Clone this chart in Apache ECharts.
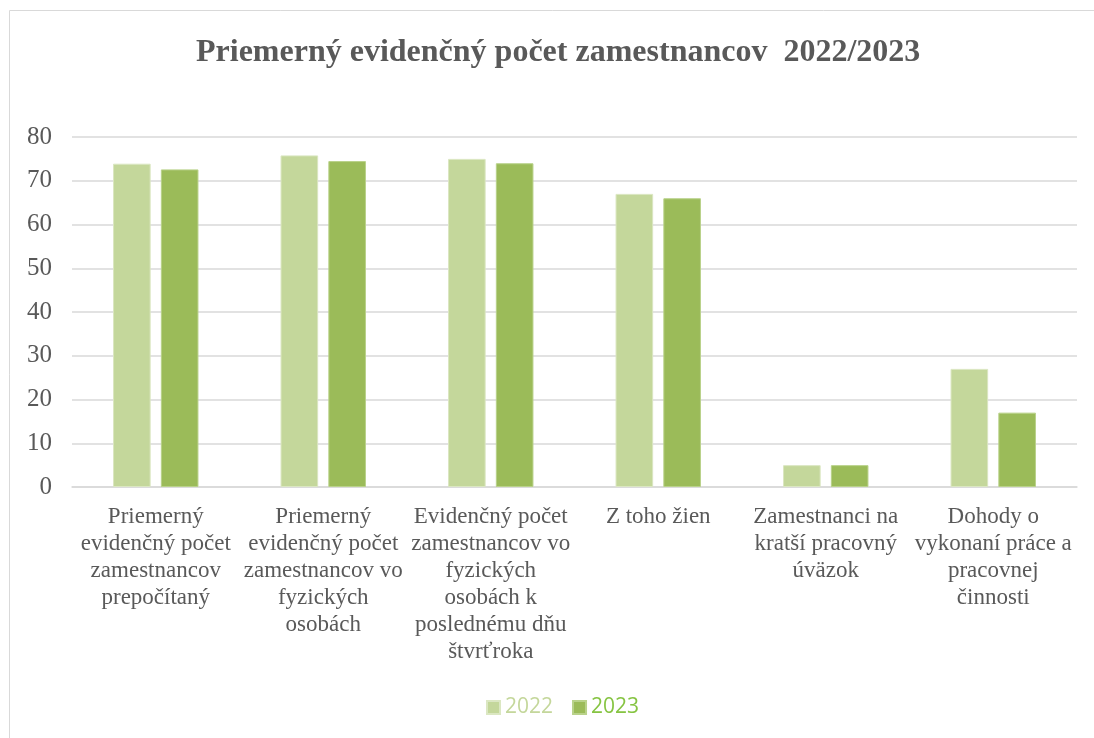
<!DOCTYPE html>
<html>
<head>
<meta charset="utf-8">
<script src="https://cdn.jsdelivr.net/npm/echarts@6/dist/echarts.min.js"></script>
<style>
  html, body { margin: 0; padding: 0; background: #fff; }
  #chart { width: 1094px; height: 738px; }
</style>
</head>
<body>
<div id="chart"></div>
<script>
const categories = [
  "Priemerný\nevidenčný počet\nzamestnancov\nprepočítaný",
  "Priemerný\nevidenčný počet\nzamestnancov vo\nfyzických\nosobách",
  "Evidenčný počet\nzamestnancov vo\nfyzických\nosobách k\nposlednému dňu\nštvrťroka",
  "Z toho žien",
  "Zamestnanci na\nkratší pracovný\núväzok",
  "Dohody o\nvykonaní práce a\npracovnej\nčinnosti",
];
const values2022 = [73.9, 75.8, 75, 67, 5, 27];
const values2023 = [72.6, 74.5, 74, 66, 5, 17];
const seriesNames = ["2022", "2023"];

const serif = "'Liberation Serif', 'Times New Roman', serif";
const chart = echarts.init(document.getElementById("chart"));

chart.setOption({
  animation: false,
  title: {
    text: "Priemerný evidenčný počet zamestnancov  2022/2023",
    left: 191,
    top: 32,
    textStyle: { fontFamily: serif, fontWeight: "bold", fontSize: 32, color: "#595959" },
  },
  graphic: [
    {
      type: "rect",
      shape: { x: 9.5, y: 10.5, width: 1100, height: 740 },
      style: { fill: "none", stroke: "#d9d9d9", lineWidth: 1 },
      silent: true,
    },
  ],
  legend: {
    bottom: 15,
    left: 481,
    itemWidth: 13,
    itemHeight: 13,
    itemGap: 19,
    icon: "rect",
    textStyle: { fontFamily: "'Open Sans', 'Liberation Sans', sans-serif", fontSize: 21 },
    data: [
      { name: "2022", textStyle: { color: "#C4D79B" } },
      { name: "2023", textStyle: { color: "#86C442" } },
    ],
  },
  grid: { left: 72, right: 17, top: 137, bottom: 251 },
  xAxis: {
    type: "category",
    data: categories,
    axisLine: { lineStyle: { color: "#d9d9d9", width: 1.5 } },
    axisTick: { show: false },
    axisLabel: {
      interval: 0,
      margin: 16,
      fontFamily: serif,
      fontSize: 23,
      lineHeight: 27,
      color: "#595959",
    },
  },
  yAxis: {
    type: "value",
    min: 0,
    max: 80,
    interval: 10,
    axisLine: { show: false },
    axisTick: { show: false },
    splitLine: { lineStyle: { color: "#d9d9d9", width: 1.5 } },
    axisLabel: { margin: 20, fontFamily: serif, fontSize: 25, color: "#595959" },
  },
  series: [
    {
      name: seriesNames[0],
      type: "bar",
      data: values2022,
      barGap: "27%",
      barCategoryGap: "49%",
      itemStyle: { color: "#C4D79B", borderColor: "#dbe7c2", borderWidth: 1 },
    },
    {
      name: seriesNames[1],
      type: "bar",
      data: values2023,
      itemStyle: { color: "#9BBB59", borderColor: "#b9d28a", borderWidth: 1 },
    },
  ],
});
</script>
</body>
</html>
